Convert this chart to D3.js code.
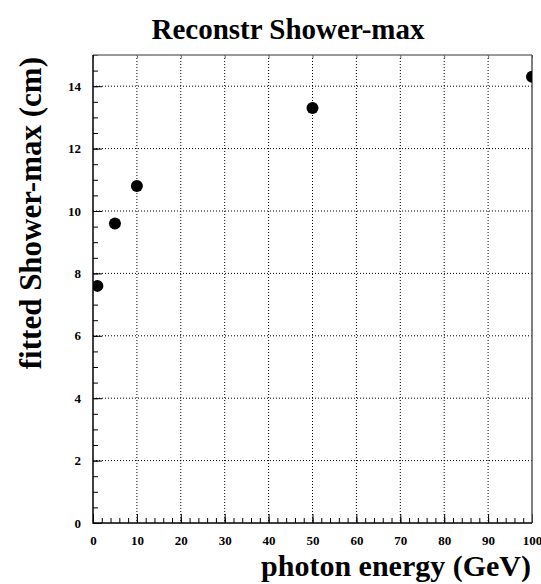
<!DOCTYPE html>
<html>
<head>
<meta charset="utf-8">
<script src="https://cdn.jsdelivr.net/npm/d3@7"></script>
<style>
html,body{margin:0;padding:0;background:#fff;}
text{font-family:"Liberation Serif","Times New Roman",serif;font-weight:bold;fill:#000;}
</style>
</head>
<body>
<svg id="c" width="541" height="584"></svg>
<script>
const energies = [1, 5, 10, 50, 100];
const showerMax = [7.6, 9.6, 10.8, 13.3, 14.3];
const xTicks = [0, 10, 20, 30, 40, 50, 60, 70, 80, 90, 100];
const yTicks = [0, 2, 4, 6, 8, 10, 12, 14];
const title = "Reconstr Shower-max";
const xTitle = "photon energy (GeV)";
const yTitle = "fitted Shower-max (cm)";

const svg = d3.select("#c");
const L = 93, R = 532, T = 55, B = 523;
const x = d3.scaleLinear().domain([0, 100]).range([L, R]);
const y = d3.scaleLinear().domain([0, 15]).range([B, T]);

svg.append("defs").append("clipPath").attr("id", "plot")
  .append("rect").attr("x", L).attr("y", T).attr("width", R - L).attr("height", B - T);

// grid
const g = svg.append("g");
g.selectAll(".gx").data(xTicks.filter(d => d > 0 && d < 100)).enter().append("line")
  .attr("x1", d => x(d)).attr("x2", d => x(d)).attr("y1", T).attr("y2", B)
  .attr("stroke", "#000").attr("stroke-width", 1).attr("stroke-dasharray", "1,2");
g.selectAll(".gy").data(yTicks.filter(d => d > 0)).enter().append("line")
  .attr("x1", L).attr("x2", R).attr("y1", d => y(d)).attr("y2", d => y(d))
  .attr("stroke", "#000").attr("stroke-width", 1).attr("stroke-dasharray", "1,2");

const styleText = a => a.selectAll("text").attr("font-size", 13)
  .attr("font-family", "Liberation Serif").attr("font-weight", "bold").attr("fill", "#000");

// bottom axis ticks (inward)
const xMinor = d3.range(0, 100.01, 2);
svg.append("g").attr("transform", `translate(0,${B})`)
  .call(d3.axisBottom(x).tickValues(xMinor).tickSize(-5).tickFormat(""))
  .call(a => a.select(".domain").remove())
  .call(a => a.selectAll("line").attr("stroke", "#000"));
svg.append("g").attr("transform", `translate(0,${B})`)
  .call(d3.axisBottom(x).tickValues(xTicks).tickSize(-9).tickFormat(d3.format("d")).tickPadding(13))
  .call(a => a.select(".domain").remove())
  .call(a => a.selectAll("line").attr("stroke", "#000"))
  .call(styleText);
// top ticks
svg.append("g").attr("transform", `translate(0,${T})`)
  .call(d3.axisTop(x).tickValues(xTicks).tickSize(-3).tickFormat(""))
  .call(a => a.select(".domain").remove())
  .call(a => a.selectAll("line").attr("stroke", "#666"));

// left axis
const yMinor = d3.range(0, 15.01, 0.5);
svg.append("g").attr("transform", `translate(${L},0)`)
  .call(d3.axisLeft(y).tickValues(yMinor).tickSize(-5).tickFormat(""))
  .call(a => a.select(".domain").remove())
  .call(a => a.selectAll("line").attr("stroke", "#000"));
svg.append("g").attr("transform", `translate(${L},0)`)
  .call(d3.axisLeft(y).tickValues(yTicks).tickSize(-9).tickFormat(d3.format("d")))
  .call(a => a.select(".domain").remove())
  .call(a => a.selectAll("line").attr("stroke", "#000"))
  .call(styleText)
  .call(a => a.selectAll("text").attr("text-anchor", "end").attr("x", -12));

// frame
svg.append("line").attr("x1", L).attr("x2", R).attr("y1", T).attr("y2", T).attr("stroke", "#777").attr("stroke-width", 1.5);
svg.append("line").attr("x1", R).attr("x2", R).attr("y1", T).attr("y2", B).attr("stroke", "#555").attr("stroke-width", 1.5);
svg.append("line").attr("x1", L).attr("x2", L).attr("y1", T).attr("y2", B + 0.75).attr("stroke", "#000").attr("stroke-width", 1.5);
svg.append("line").attr("x1", L).attr("x2", R).attr("y1", B).attr("y2", B).attr("stroke", "#000").attr("stroke-width", 1.5);

// points
const pts = energies.map((e, i) => ({e, v: showerMax[i]}));
svg.append("g").attr("clip-path", "url(#plot)").selectAll("circle").data(pts).enter().append("circle")
  .attr("cx", d => x(d.e)).attr("cy", d => y(d.v)).attr("r", 6).attr("fill", "#000");

// titles
svg.append("text").attr("x", 288).attr("y", 39).attr("text-anchor", "middle").attr("font-size", 29).text(title);
svg.append("text").attr("x", 531).attr("y", 576).attr("text-anchor", "end").attr("font-size", 30).text(xTitle);
svg.append("text").attr("transform", "translate(41,57) rotate(-90)").attr("text-anchor", "end").attr("font-size", 31).text(yTitle);
</script>
</body>
</html>
